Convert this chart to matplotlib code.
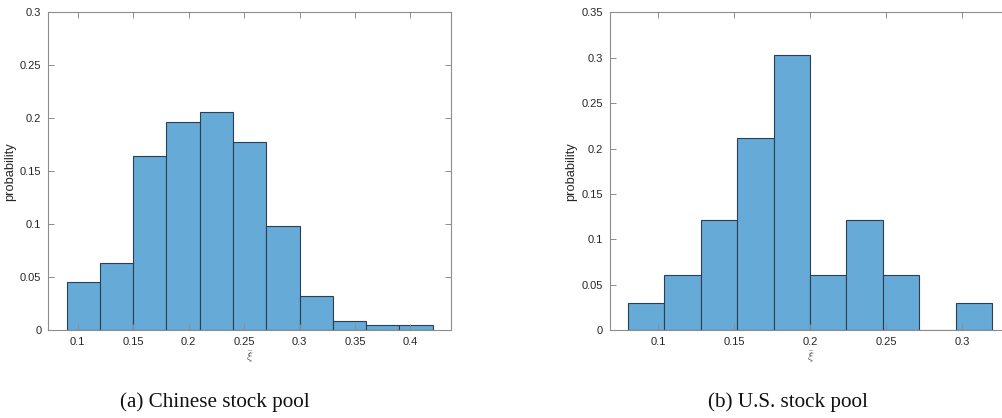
import numpy as np
import matplotlib
matplotlib.use("Agg")
import matplotlib.pyplot as plt
from matplotlib.ticker import FuncFormatter

# histogram data
cn_edges = [0.09, 0.12, 0.15, 0.18, 0.21, 0.24, 0.27, 0.30, 0.33, 0.36, 0.39, 0.42]
cn_prob = [0.0457, 0.0639, 0.1644, 0.1963, 0.2055, 0.1781, 0.0982, 0.0320, 0.0091, 0.0046, 0.0046]
us_edges = [0.08, 0.104, 0.128, 0.152, 0.176, 0.2, 0.224, 0.248, 0.272, 0.296, 0.32]
us_prob = [0.0303, 0.0606, 0.1212, 0.2121, 0.3030, 0.0606, 0.1212, 0.0606, 0.0, 0.0303]

cn_xticks = [0.1, 0.15, 0.2, 0.25, 0.3, 0.35, 0.4]
cn_yticks = [0, 0.05, 0.1, 0.15, 0.2, 0.25, 0.3]
us_xticks = [0.1, 0.15, 0.2, 0.25, 0.3]
us_yticks = [0, 0.05, 0.1, 0.15, 0.2, 0.25, 0.3, 0.35]

captions = ['(a) Chinese stock pool', '(b) U.S. stock pool']

plt.rcParams['font.family'] = 'Liberation Sans'
plt.rcParams['mathtext.fontset'] = 'cm'

face = '#66aad7'
edge = '#2c3e50'
axcol = '#8c8c8c'
txtcol = '#262626'

fig = plt.figure(figsize=(10.03, 4.18), dpi=100)
ax1 = fig.add_axes([0.0482, 0.2098, 0.4012, 0.7608])
ax2 = fig.add_axes([0.6079, 0.2098, 0.4012, 0.7608])

fmt = FuncFormatter(lambda v, p: '%g' % round(v, 4))

setups = [
    (ax1, cn_edges, cn_prob, cn_xticks, cn_yticks, (0.0735, 0.4364), (0, 0.3)),
    (ax2, us_edges, us_prob, us_xticks, us_yticks, (0.0682, 0.333), (0, 0.35)),
]
for ax, edges, prob, xt, yt, xl, yl in setups:
    edges = np.array(edges)
    ax.bar(edges[:-1], prob, width=np.diff(edges), align='edge',
           color=face, edgecolor=edge, linewidth=0.8)
    ax.set_xlim(*xl)
    ax.set_ylim(*yl)
    ax.set_xticks(xt)
    ax.set_yticks(yt)
    ax.xaxis.set_major_formatter(fmt)
    ax.yaxis.set_major_formatter(fmt)
    ax.tick_params(direction='in', length=4, width=0.7, colors=axcol,
                   labelcolor=txtcol, labelsize=8, top=True, right=True, pad=5)
    for s in ax.spines.values():
        s.set_color(axcol)
        s.set_linewidth(0.8)
    ax.set_xlabel(r'$\bar{\xi}$', fontsize=8.5, color='#555555', labelpad=1)
    ax.set_ylabel('probability', fontsize=9.3, color=txtcol, labelpad=3)

fig.text(215 / 1003, 1 - 402 / 418, captions[0], family='Liberation Serif',
         fontsize=15.2, ha='center', va='center', color='#111111')
fig.text(788 / 1003, 1 - 402 / 418, captions[1], family='Liberation Serif',
         fontsize=15.2, ha='center', va='center', color='#111111')

fig.savefig('out.png', dpi=100)
